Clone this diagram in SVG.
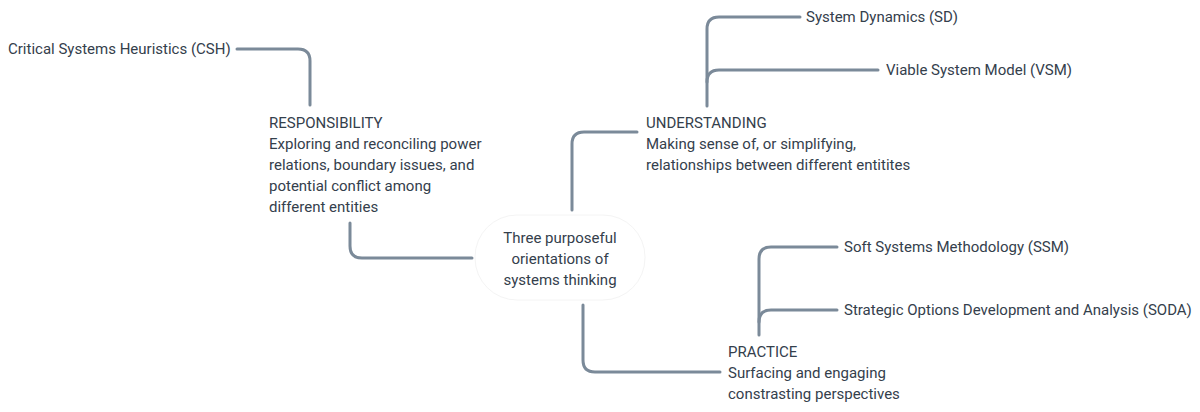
<svg xmlns="http://www.w3.org/2000/svg" width="1200" height="412" viewBox="0 0 1200 412">
<style>
.t{font-family:Roboto,"Liberation Sans",sans-serif;font-size:15px;fill:#34404c}
.c{fill:none;stroke:#7b8a99;stroke-width:3;stroke-linecap:round;stroke-linejoin:round}
</style>
<rect width="1200" height="412" fill="#ffffff"/>
<g id="connectors">
<path class="c" d="M237,49 H298 Q310,49 310,61 V105"/>
<path class="c" d="M472,258 H362 Q350,258 350,246 V223"/>
<path class="c" d="M572,210 V144 Q572,132 584,132 H637"/>
<path class="c" d="M583,305 V360 Q583,372 595,372 H720"/>
<path class="c" d="M707,106 V29 Q707,17 719,17 H800"/>
<path class="c" d="M707,82 Q707,70 719,70 H878"/>
<path class="c" d="M759,335 V259 Q759,247 771,247 H837"/>
<path class="c" d="M759,322 Q759,310 771,310 H837"/>
</g>
<g id="center">
<rect x="475" y="215" width="170" height="85" rx="42" fill="#ffffff" stroke="#f4f4f4" stroke-width="1"/>
<text class="t" text-anchor="middle" x="560" y="243">Three purposeful</text>
<text class="t" text-anchor="middle" x="560" y="264">orientations of</text>
<text class="t" text-anchor="middle" x="560" y="285">systems thinking</text>
</g>
<g id="responsibility">
<text class="t" x="269" y="128">RESPONSIBILITY</text>
<text class="t" x="269" y="149">Exploring and reconciling power</text>
<text class="t" x="269" y="170">relations, boundary issues, and</text>
<text class="t" x="269" y="191">potential conflict among</text>
<text class="t" x="269" y="212">different entities</text>
</g>
<g id="csh"><text class="t" x="8" y="54">Critical Systems Heuristics (CSH)</text></g>
<g id="understanding">
<text class="t" x="646" y="128">UNDERSTANDING</text>
<text class="t" x="646" y="149">Making sense of, or simplifying,</text>
<text class="t" x="646" y="170">relationships between different entitites</text>
</g>
<g id="sd"><text class="t" x="806" y="22">System Dynamics (SD)</text></g>
<g id="vsm"><text class="t" x="886" y="75">Viable System Model (VSM)</text></g>
<g id="practice">
<text class="t" x="728" y="357">PRACTICE</text>
<text class="t" x="728" y="378">Surfacing and engaging</text>
<text class="t" x="728" y="399">constrasting perspectives</text>
</g>
<g id="ssm"><text class="t" x="844" y="252">Soft Systems Methodology (SSM)</text></g>
<g id="soda"><text class="t" x="844" y="315">Strategic Options Development and Analysis (SODA)</text></g>
</svg>
